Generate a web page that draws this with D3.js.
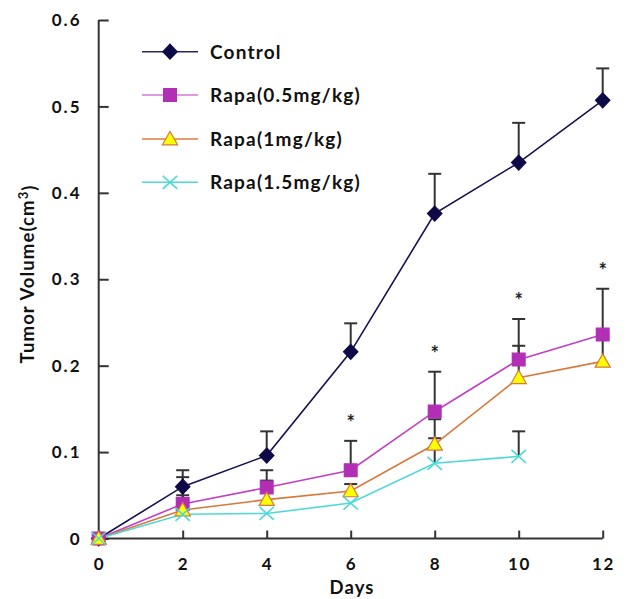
<!DOCTYPE html>
<html>
<head>
<meta charset="utf-8">
<script src="https://cdn.jsdelivr.net/npm/d3@7"></script>
<style>
  html, body { margin: 0; padding: 0; background: #fff; }
  svg text { font-family: Lato, "Open Sans", sans-serif; font-weight: bold; fill: #111; }
</style>
</head>
<body>
<svg id="chart" width="627" height="599"></svg>
<script>
// ---- data ----
const days = [0, 2, 4, 6, 8, 10, 12];
const seriesNames = ["Control", "Rapa(0.5mg/kg)", "Rapa(1mg/kg)", "Rapa(1.5mg/kg)"];
const control     = [0, 0.060, 0.096, 0.216, 0.376, 0.435, 0.507];
const controlErr  = [0, 0.019, 0.028, 0.033, 0.046, 0.046, 0.037];
const rapa05      = [0, 0.040, 0.059, 0.079, 0.147, 0.207, 0.236];
const rapa05Err   = [0, 0.031, 0.020, 0.034, 0.046, 0.047, 0.053];
const rapa1       = [0, 0.033, 0.045, 0.055, 0.109, 0.186, 0.205];
const rapa1Err    = [0, 0.017, 0.022, 0.008, 0.029, 0.037, 0.031];
const rapa15      = [0, 0.028, 0.029, 0.041, 0.087, 0.095, null];
const rapa15Err   = [0, 0, 0, 0, 0.029, 0.029, null];
const starDays    = [6, 8, 10, 12];
const xTicks = [0, 2, 4, 6, 8, 10, 12];
const yTicks = [0, 0.1, 0.2, 0.3, 0.4, 0.5, 0.6];
const xTitle = "Days";

// ---- styles ----
const styles = [
  { line: "#16124f", legendLine: "#2a2660", fill: "#0e0a48", stroke: "#0e0a48", sym: "diamond" },
  { line: "#c13fc6", legendLine: "#d47ad8", fill: "#b22fb5", stroke: "#b22fb5", sym: "square" },
  { line: "#d8783a", legendLine: "#dd7c3e", fill: "#ffff00", stroke: "#d8783a", sym: "triangle" },
  { line: "#4fd9d6", legendLine: "#4fd9d6", fill: "none", stroke: "#4fd9d6", sym: "cross" }
];
const values = [control, rapa05, rapa1, rapa15];
const errs = [controlErr, rapa05Err, rapa1Err, rapa15Err];

const svg = d3.select("#chart");
const x = d3.scaleLinear().domain([0, 12]).range([98.7, 602.7]);
const y = d3.scaleLinear().domain([0, 0.6]).range([538.5, 20]);

function symPath(type) {
  switch (type) {
    case "diamond": return "M0,-7.5L7.2,0L0,7.5L-7.2,0Z";
    case "square": return "M-6.4,-6.4H6.4V6.4H-6.4Z";
    case "triangle": return "M0,-7.5L7.6,5.8L-7.6,5.8Z";
    case "cross": return "M-7.2,-6.5L7.2,6.5M-7.2,6.5L7.2,-6.5";
  }
}

// ---- axes ----
const axisColor = "#333";
const yAxis = d3.axisRight(y).tickValues(yTicks).tickSize(10).tickFormat("");
const gy = svg.append("g").attr("transform", `translate(${x(0)},0)`).call(yAxis);
const xAxis = d3.axisTop(x).tickValues(xTicks).tickSize(8).tickFormat("");
const gx = svg.append("g").attr("transform", `translate(0,${y(0)})`).call(xAxis);
[gx, gy].forEach(g => {
  g.select(".domain").attr("stroke", axisColor).attr("stroke-width", 2);
  g.selectAll(".tick line").attr("stroke", axisColor).attr("stroke-width", 2);
});
gy.select(".domain").attr("d", `M0,${y(0.6)}H0V${y(0)}`);
gx.select(".domain").attr("d", `M${x(0)},0H${x(12)}`);

// tick labels
svg.append("g").selectAll("text").data(yTicks).join("text")
  .attr("x", 81.5).attr("y", d => y(d)).attr("dy", "0.36em")
  .attr("text-anchor", "end").style("font-size", "17px").style("letter-spacing", "2px")
  .text(d => d === 0 ? "0" : d3.format(".1f")(d));
svg.append("g").selectAll("text").data(xTicks).join("text")
  .attr("x", d => x(d) + 0.75).attr("y", 570)
  .attr("text-anchor", "middle").style("font-size", "17px").style("letter-spacing", "1.5px")
  .text(d => d);

// axis titles
svg.append("text").attr("x", 352).attr("y", 594).attr("text-anchor", "middle")
  .style("font-size", "18.5px").style("letter-spacing", "1.1px").text(xTitle);
const yt = svg.append("text").attr("transform", "translate(34,274) rotate(-90)")
  .attr("text-anchor", "middle").style("font-size", "18.5px").style("letter-spacing", "1.1px");
yt.append("tspan").text("Tumor Volume(cm");
yt.append("tspan").attr("dy", "-0.45em").style("font-size", "13px").text("3");
yt.append("tspan").attr("dy", "0.45em").text(")");

// ---- error bars ----
const eg = svg.append("g");
values.forEach((vals, si) => {
  days.forEach((d, i) => {
    const v = vals[i], e = errs[si][i];
    if (v == null || !e) return;
    const cx = x(d);
    eg.append("line").attr("x1", cx).attr("x2", cx).attr("y1", y(v)).attr("y2", y(v + e))
      .attr("stroke", "#333").attr("stroke-width", 2);
    eg.append("line").attr("x1", cx - 6.5).attr("x2", cx + 6.5).attr("y1", y(v + e)).attr("y2", y(v + e))
      .attr("stroke", "#333").attr("stroke-width", 2);
  });
});

// ---- lines ----
const lineGen = d3.line().defined(d => d[1] != null).x(d => x(d[0])).y(d => y(d[1]));
values.forEach((vals, si) => {
  svg.append("path").datum(days.map((d, i) => [d, vals[i]]))
    .attr("d", lineGen).attr("fill", "none")
    .attr("stroke", styles[si].line).attr("stroke-width", 1.6);
});

// ---- markers ----
values.forEach((vals, si) => {
  const st = styles[si];
  svg.append("g").selectAll("path").data(days.map((d, i) => [d, vals[i]]).filter(p => p[1] != null))
    .join("path")
    .attr("transform", p => `translate(${x(p[0])},${y(p[1])})`)
    .attr("d", symPath(st.sym))
    .attr("fill", st.fill).attr("stroke", st.stroke)
    .attr("stroke-width", st.sym === "cross" ? 1.6 : 1.2);
});

// ---- significance stars ----
svg.append("g").selectAll("text").data(starDays).join("text")
  .attr("x", d => x(d))
  .attr("y", d => {
    const i = days.indexOf(d);
    let top = 0;
    [1, 2, 3].forEach(si => {
      const v = values[si][i], e = errs[si][i] || 0;
      if (v != null) top = Math.max(top, v + e);
    });
    return y(top) - 11;
  })
  .attr("text-anchor", "middle")
  .style("font-size", "20px").style("fill", "#222").text("*");

// ---- legend ----
const legY = [51.7, 95, 139, 182.3];
const lg = svg.append("g");
seriesNames.forEach((name, si) => {
  const st = styles[si];
  const gy0 = legY[si];
  lg.append("line").attr("x1", 142).attr("x2", 198).attr("y1", gy0).attr("y2", gy0)
    .attr("stroke", st.legendLine).attr("stroke-width", 1.6);
  lg.append("path").attr("transform", `translate(170,${gy0})`).attr("d", symPath(st.sym))
    .attr("fill", st.fill).attr("stroke", st.stroke)
    .attr("stroke-width", st.sym === "cross" ? 1.6 : 1.2);
  lg.append("text").attr("x", 210).attr("y", gy0).attr("dy", "0.36em")
    .style("font-size", "19px").style("letter-spacing", "1.2px").text(name);
});
</script>
</body>
</html>
